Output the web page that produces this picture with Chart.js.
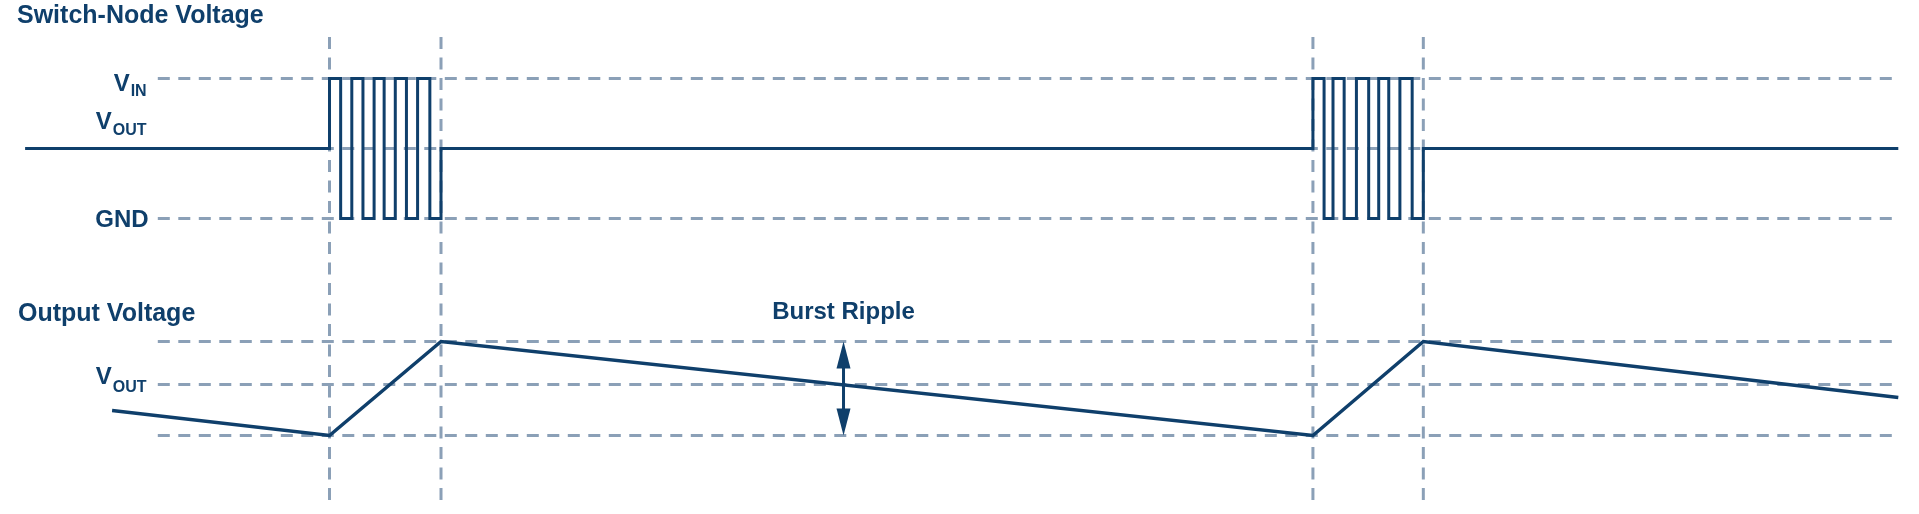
<!DOCTYPE html>
<html>
<head>
<meta charset="utf-8">
<title>Switch-Node Voltage / Output Voltage</title>
<script src="https://cdn.jsdelivr.net/npm/chart.js@4.4.1/dist/chart.umd.min.js"></script>
<style>
  html, body { margin: 0; padding: 0; background: #fff; }
  #wrap { width: 1919px; height: 514px; }
</style>
</head>
<body>
<div id="wrap"><canvas id="burstChart" width="1919" height="514"></canvas></div>
<script>
// time axis: 1 unit ~ one switching half-period
// switch node: edge times and the level held after each edge (V)
const switchT = [-27.3, 0, 1, 2, 3, 4, 4.9, 5.9, 6.9, 7.9, 9, 10,
                 88.2, 89.2, 90, 91, 92.1, 93.2, 94.1, 95, 96, 97.1, 98.1, 140.7];
const switchV = [5, 10, 0, 10, 0, 10, 0, 10, 0, 10, 0, 5,
                 10, 0, 10, 0, 10, 0, 10, 0, 10, 0, 5, 5];
const switchLevels = [10, 5, 0];
const switchLabels = [['V', 'IN'], ['V', 'OUT'], ['GND', '']];

// output voltage, deviation from V_OUT in mV
const outT = [-19.5, 0, 10, 88.2, 98.1, 140.7];
const outMv = [-26, -51, 43, -51, 43, -13];
const rippleLevels = [43, 0, -51];
const rippleLabels = ['', ['V', 'OUT'], ''];

// burst start / end markers
const burstMarks = [0, 10, 88.2, 98.1];
const rippleArrowT = 46.1;

const NAVY = '#0f3f6b';
const GUIDE = '#8ba0b7';
const FONT = '"Liberation Sans", Arial, sans-serif';

// extent of the guide lines
const guideStart = -15.4, guideEnd = 140.7;
const markTop = 12.96, markBottom = -20.6;

function guide(points, yAxisID) {
    return {
        data: points, yAxisID: yAxisID,
        borderColor: GUIDE, borderWidth: 3, borderDash: [12, 8.5],
        borderCapStyle: 'butt', pointRadius: 0, order: 1
    };
}

const datasets = [];

// switch node waveform
datasets.push({
    data: switchT.map((t, i) => ({ x: t, y: switchV[i] })),
    yAxisID: 'ySw', stepped: true,
    borderColor: NAVY, borderWidth: 3, borderJoinStyle: 'miter',
    pointRadius: 0, order: 0
});

// output voltage sawtooth
datasets.push({
    data: outT.map((t, i) => ({ x: t, y: outMv[i] })),
    yAxisID: 'yOut',
    borderColor: NAVY, borderWidth: 3.5, borderJoinStyle: 'miter',
    pointRadius: 0, order: 0
});

// ripple arrow shaft
datasets.push({
    data: [{ x: rippleArrowT, y: rippleLevels[0] - 20 }, { x: rippleArrowT, y: rippleLevels[2] + 20 }],
    yAxisID: 'yOut', borderColor: NAVY, borderWidth: 3, pointRadius: 0, order: 0
});

switchLevels.forEach(v => {
    datasets.push(guide([{ x: guideStart, y: v }, { x: guideEnd, y: v }], 'ySw'));
});
rippleLevels.forEach(v => {
    datasets.push(guide([{ x: guideStart, y: v }, { x: guideEnd, y: v }], 'yOut'));
});
burstMarks.forEach(t => {
    datasets.push(guide([{ x: t, y: markTop }, { x: t, y: markBottom }], 'ySw'));
});

// V + subscript label, right aligned at xRight
function levelLabel(ctx, parts, xRight, yMain, ySub) {
    ctx.textAlign = 'right';
    ctx.textBaseline = 'alphabetic';
    let x = xRight;
    if (parts[1]) {
        ctx.font = 'bold 16px ' + FONT;
        ctx.fillText(parts[1], x, ySub);
        x -= ctx.measureText(parts[1]).width + 1;
    }
    ctx.font = 'bold 24px ' + FONT;
    ctx.fillText(parts[0], x, yMain);
}

const annotations = {
    id: 'annotations',
    afterDatasetsDraw(chart) {
        const ctx = chart.ctx;
        const x = chart.scales.x.getPixelForValue(rippleArrowT);
        const yTop = chart.scales.yOut.getPixelForValue(rippleLevels[0]);
        const yBot = chart.scales.yOut.getPixelForValue(rippleLevels[2]);
        ctx.save();
        ctx.fillStyle = NAVY;
        ctx.beginPath();
        ctx.moveTo(x, yTop);
        ctx.lineTo(x + 7, yTop + 27);
        ctx.lineTo(x - 7, yTop + 27);
        ctx.closePath();
        ctx.fill();
        ctx.beginPath();
        ctx.moveTo(x, yBot);
        ctx.lineTo(x + 7, yBot - 27);
        ctx.lineTo(x - 7, yBot - 27);
        ctx.closePath();
        ctx.fill();
        ctx.restore();
    },
    afterDraw(chart) {
        const ctx = chart.ctx;
        const sx = chart.scales.x, sw = chart.scales.ySw, so = chart.scales.yOut;
        ctx.save();
        ctx.fillStyle = NAVY;

        ctx.font = 'bold 25px ' + FONT;
        ctx.textAlign = 'left';
        ctx.textBaseline = 'alphabetic';
        ctx.fillText('Switch-Node Voltage', 17, 23);
        ctx.fillText('Output Voltage', 18, 321);
        ctx.font = 'bold 24px ' + FONT;
        ctx.textAlign = 'center';
        ctx.fillText('Burst Ripple', sx.getPixelForValue(rippleArrowT), 319);

        const xr = sx.getPixelForValue(-16.4);
        // offsets of main / subscript baselines from the level line
        const swOffsets = [[13, 18], [-19, -13], [9, 9]];
        switchLevels.forEach((v, i) => {
            const y = sw.getPixelForValue(v);
            levelLabel(ctx, switchLabels[i], xr + (i === 2 ? 2 : 0), y + swOffsets[i][0], y + swOffsets[i][1]);
        });
        const y = so.getPixelForValue(rippleLevels[1]);
        levelLabel(ctx, rippleLabels[1], xr, y - 1, y + 7);
        ctx.restore();
    }
};

new Chart(document.getElementById('burstChart'), {
    type: 'line',
    data: { datasets: datasets },
    options: {
        responsive: false,
        animation: false,
        devicePixelRatio: 1,
        layout: { padding: 0 },
        plugins: { legend: { display: false }, tooltip: { enabled: false } },
        scales: {
            x: { type: 'linear', min: -29.552, max: 142.556, display: false },
            ySw: { type: 'linear', min: -21.107, max: 15.607, display: false },
            yOut: { type: 'linear', min: -129.5, max: 384.5, display: false }
        }
    },
    plugins: [annotations]
});
</script>
</body>
</html>
